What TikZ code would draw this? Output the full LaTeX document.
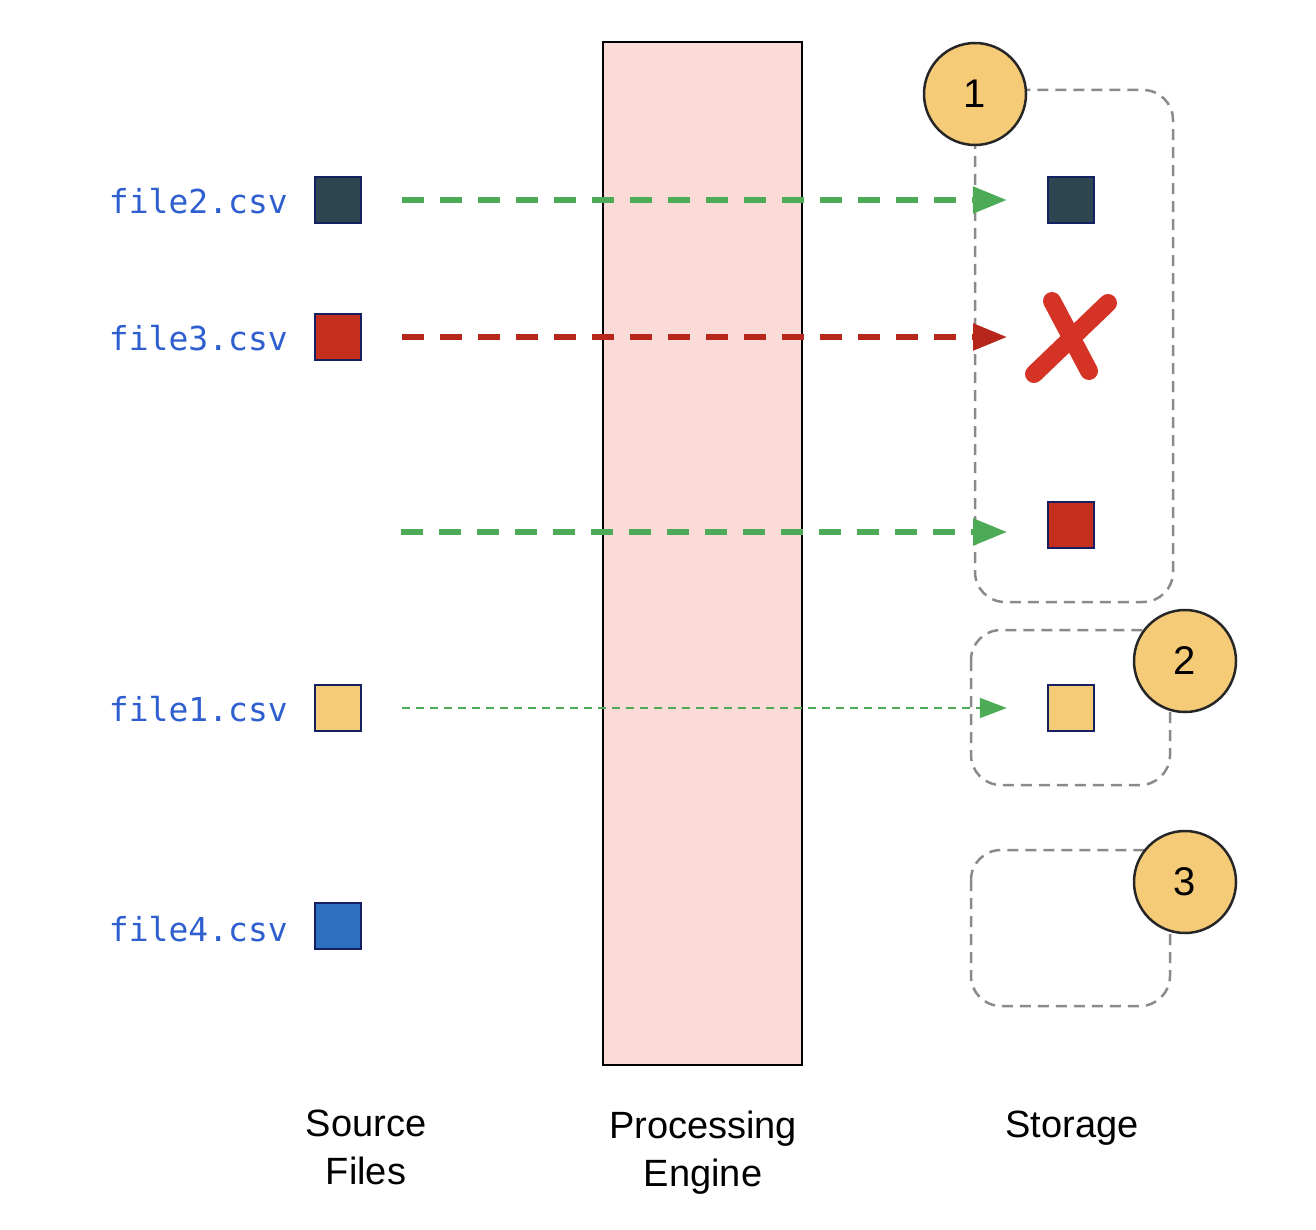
\documentclass[tikz,border=0pt]{standalone}
\usepackage{fontspec}
\setmainfont{Liberation Sans}
\newfontfamily\monof{DejaVu Sans Mono}
\usetikzlibrary{arrows.meta}
\definecolor{pinkfill}{HTML}{FADBD8}
\definecolor{filetext}{HTML}{2F5FCF}
\definecolor{greenarr}{HTML}{4DAA57}
\definecolor{redarr}{HTML}{B7261B}
\definecolor{xred}{HTML}{D63327}
\definecolor{sqborder}{HTML}{152063}
\definecolor{slate}{HTML}{2E4650}
\definecolor{redsq}{HTML}{C5301E}
\definecolor{yellowsq}{HTML}{F6CB78}
\definecolor{bluesq}{HTML}{2F6FBF}
\definecolor{boxgray}{HTML}{8A8A8A}
\tikzset{
  filesq/.style={draw=sqborder, line width=2.5pt, minimum size=46pt, inner sep=0pt},
  filelabel/.style={anchor=east, text=filetext, inner sep=0pt, font=\monof\fontsize{33}{40}\selectfont},
  thickarrow/.style={line width=5.5pt, dash pattern=on 22pt off 16pt, -{Triangle[length=34pt,width=26pt]}},
  thinarrow/.style={line width=2pt, dash pattern=on 8pt off 6pt, -{Triangle[length=27pt,width=20pt]}},
  storebox/.style={draw=boxgray, line width=2.5pt, dash pattern=on 11pt off 7pt, rounded corners=30pt},
  numcircle/.style={circle, draw=black!85, line width=2.5pt, fill=yellowsq, minimum size=102pt, inner sep=0pt, font=\fontsize{40}{40}\selectfont},
  collabel/.style={align=center, font=\fontsize{38}{48}\selectfont, inner sep=0pt}
}
\begin{document}
\begin{tikzpicture}[x=1pt,y=-1pt]
\useasboundingbox (0,0) rectangle (1316,1230);
% processing engine
\node[draw=black, line width=1.5pt, fill=pinkfill, minimum width=199pt, minimum height=1023pt, inner sep=0pt] (engine) at (702.5,553.5) {};
% source files
\node[filesq, fill=slate] (src2) at (338,200) {};
\node[filesq, fill=redsq] (src3) at (338,337) {};
\node[filesq, fill=yellowsq] (src1) at (338,708) {};
\node[filesq, fill=bluesq] (src4) at (338,926) {};
\node[filelabel] (lab2) at (288,201) {file2.csv};
\node[filelabel] (lab3) at (288,338) {file3.csv};
\node[filelabel] (lab1) at (288,709) {file1.csv};
\node[filelabel] (lab4) at (288,929) {file4.csv};
% storage boxes
\draw[storebox] (975,90) rectangle (1173,602);
\draw[storebox] (971,630) rectangle (1170,785);
\draw[storebox] (971,850) rectangle (1170,1006);
% storage squares
\node[filesq, fill=slate] (dst2) at (1071,200) {};
\node[filesq, fill=redsq] (dst3) at (1071,525) {};
\node[filesq, fill=yellowsq] (dst1) at (1071,708) {};
% X mark
\draw[xred, line width=18pt, line cap=round] (1052,301) -- (1089,371);
\draw[xred, line width=18pt, line cap=round] (1108,303) -- (1034,374);
% arrows
\coordinate (retryS) at (401,532);
\coordinate (retryT) at (1007,532);
\coordinate (failT) at (1007,337);
\draw[thickarrow, greenarr] ([xshift=40pt]src2.east) -- ([xshift=-40pt]dst2.west);
\draw[thickarrow, redarr] ([xshift=40pt]src3.east) -- (failT);
\draw[thickarrow, greenarr] (retryS) -- (retryT);
\draw[thinarrow, greenarr] ([xshift=40pt]src1.east) -- ([xshift=-40pt]dst1.west);
% numbered circles
\node[numcircle] (c1) at (975,94) {1};
\node[numcircle] (c2) at (1185,661) {2};
\node[numcircle] (c3) at (1185,882) {3};
% column labels
\node[collabel] (lsrc) at (366,1147) {Source\\Files};
\node[collabel] (leng) at (703,1153) {Processing\\Engine};
\node[collabel] (lsto) at (1072,1128) {Storage};
\end{tikzpicture}
\end{document}
